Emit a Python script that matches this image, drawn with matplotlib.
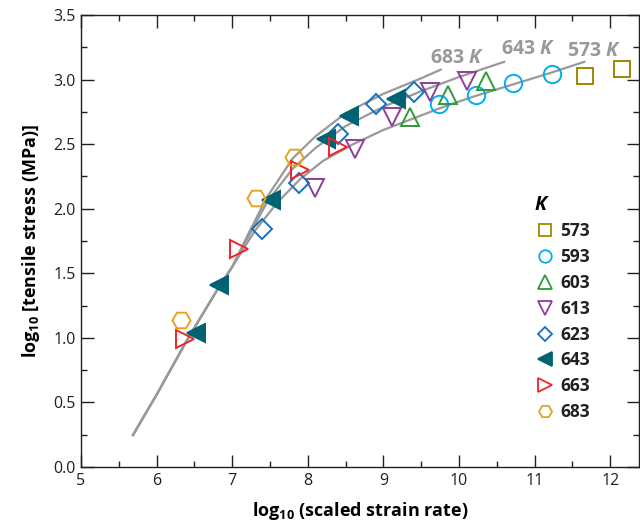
import matplotlib
matplotlib.use("Agg")
import matplotlib.pyplot as plt
from matplotlib.ticker import MultipleLocator
from matplotlib.lines import Line2D

plt.rcParams['font.family'] = ['Open Sans', 'DejaVu Sans']
plt.rcParams['mathtext.fontset'] = 'custom'
plt.rcParams['mathtext.rm'] = 'Open Sans:bold'
plt.rcParams['mathtext.it'] = 'Open Sans:bold:italic'
plt.rcParams['mathtext.default'] = 'rm'

# ---- data ----
temps = ['573', '593', '603', '613', '623', '643', '663', '683']
x573 = [11.67, 12.16]
y573 = [3.03, 3.08]
x593 = [9.73, 10.23, 10.72, 11.23]
y593 = [2.81, 2.88, 2.97, 3.04]
x603 = [9.35, 9.85, 10.36]
y603 = [2.71, 2.88, 2.99]
x613 = [8.10, 8.62, 9.11, 9.61, 10.11]
y613 = [2.16, 2.46, 2.71, 2.90, 2.99]
x623 = [7.40, 7.88, 8.40, 8.90, 9.40]
y623 = [1.84, 2.20, 2.58, 2.81, 2.90]
x643 = [6.52, 6.82, 7.51, 8.24, 8.55, 9.16]
y643 = [1.04, 1.41, 2.07, 2.54, 2.72, 2.85]
x663 = [6.38, 7.09, 7.89, 8.40]
y663 = [0.99, 1.69, 2.30, 2.48]
x683 = [6.32, 7.32, 7.82]
y683 = [1.14, 2.08, 2.40]

# fitted curves
cx_shared = [5.68, 6.0, 6.4, 6.8, 7.0]
cy_shared = [0.24, 0.56, 0.98, 1.37, 1.55]
cx683 = [7.2, 7.45, 7.8, 8.1, 8.5, 9.0, 9.5, 9.77]
cy683 = [1.79, 2.08, 2.39, 2.56, 2.74, 2.89, 3.01, 3.08]
cx643 = [7.2, 7.47, 7.8, 8.1, 8.5, 9.0, 9.5, 10.0, 10.61]
cy643 = [1.77, 2.06, 2.31, 2.47, 2.64, 2.79, 2.91, 3.02, 3.14]
cx573 = [7.3, 7.6, 7.9, 8.2, 8.6, 9.0, 9.4, 9.8, 10.2, 10.7, 11.2, 11.67]
cy573 = [1.83, 2.05, 2.23, 2.37, 2.50, 2.61, 2.70, 2.79, 2.87, 2.96, 3.05, 3.14]
curve_labels = ['683', '643', '573']
label_x = [9.62, 10.56, 11.43]
label_y = [3.17, 3.24, 3.22]

colors = {'573': '#A08800', '593': '#00AEEF', '603': '#2E9B3A', '613': '#8E3D98',
          '623': '#1570BE', '643': '#006272', '663': '#EE2428', '683': '#E9A21F'}
markers = {'573': 's', '593': 'o', '603': '^', '613': 'v', '623': 'D',
           '643': '<', '663': '>', '683': 'H'}
msizes = {'573': 11.5, '593': 12.5, '603': 13.5, '613': 13.5, '623': 10.0,
          '643': 13.5, '663': 13.5, '683': 13.0}
series = {'573': (x573, y573), '593': (x593, y593), '603': (x603, y603),
          '613': (x613, y613), '623': (x623, y623), '643': (x643, y643),
          '663': (x663, y663), '683': (x683, y683)}

fig = plt.figure(figsize=(6.4, 5.26), dpi=100)
ax = fig.add_axes([81/640, 1-467/526, (639-81)/640, (467-15)/526])

gray = '#999999'
for cx, cy in [(cx683, cy683), (cx643, cy643), (cx573, cy573)]:
    ax.plot(cx_shared + cx, cy_shared + cy, color=gray, lw=1.6, zorder=1,
            solid_capstyle='butt')

for t, lx, ly in zip(curve_labels, label_x, label_y):
    ax.text(lx, ly, t + r' $\mathit{K}$', color=gray, fontsize=14,
            fontweight='bold', ha='left', va='center', zorder=2)

handles = []
for t in temps:
    xs, ys = series[t]
    filled = (t == '643')
    ax.plot(xs, ys, linestyle='none', marker=markers[t], ms=msizes[t],
            mfc=colors[t] if filled else 'none', mec=colors[t], mew=1.4,
            zorder=3)
    handles.append(Line2D([], [], linestyle='none', marker=markers[t],
                          ms=msizes[t] * 0.72,
                          mfc=colors[t] if filled else 'none',
                          mec=colors[t], mew=1.3, label=t))

leg = ax.legend(handles=handles, title='K', frameon=False, loc='upper left',
                bbox_to_anchor=(0.800, 0.618), borderaxespad=0,
                handletextpad=0.3, labelspacing=0.45, handlelength=1.2,
                prop={'weight': 'bold', 'size': 12.5},
                title_fontproperties={'weight': 'bold', 'style': 'italic', 'size': 14},
                alignment='left')
for txt in leg.get_texts():
    txt.set_color('#231F20')

ax.set_xlim(5, 12.38)
ax.set_ylim(0, 3.5)
ax.xaxis.set_major_locator(MultipleLocator(1))
ax.xaxis.set_minor_locator(MultipleLocator(0.5))
ax.yaxis.set_major_locator(MultipleLocator(0.5))
ax.yaxis.set_minor_locator(MultipleLocator(0.25))
ax.yaxis.set_major_formatter(matplotlib.ticker.FormatStrFormatter('%.1f'))
ax.tick_params(which='both', direction='in', top=True, right=True,
               colors='#231F20', labelsize=11.5, width=1.0)
ax.tick_params(which='major', length=9, pad=4)
ax.tick_params(which='minor', length=4.5)
for s in ax.spines.values():
    s.set_color('#231F20')
    s.set_linewidth(1.0)

ax.set_xlabel(r'log$_{10}$ (scaled strain rate)', fontsize=13, fontweight='bold',
              labelpad=8)
ax.set_ylabel(r'log$_{10}$ [tensile stress (MPa)]', fontsize=13, fontweight='bold',
              labelpad=8)

fig.savefig('out.png', dpi=100)
